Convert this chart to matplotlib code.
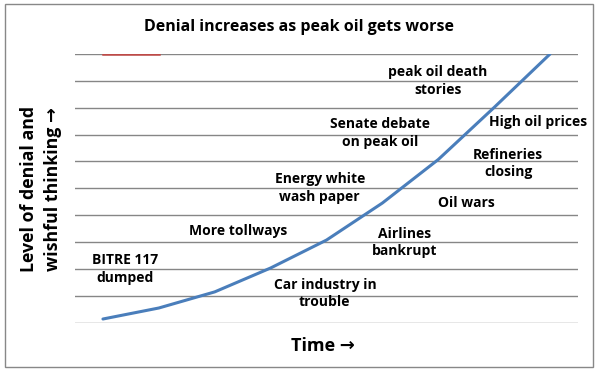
import matplotlib.pyplot as plt
from matplotlib.patches import Rectangle

plt.rcParams['font.family'] = ['Open Sans', 'DejaVu Sans']

# denial level over time (9 steps)
steps = list(range(9))
denial = [1.3, 5.4, 11.4, 20.3, 30.7, 44.5, 60.7, 80.1, 100]
# short red series at the top (first two steps)
red_steps = [0, 1]
red_vals = [100, 100]

events = ["peak oil death\nstories", "Senate debate\non peak oil", "High oil prices",
          "Refineries\nclosing", "Energy white\nwash paper", "Oil wars",
          "More tollways", "Airlines\nbankrupt", "BITRE 117\ndumped",
          "Car industry in\ntrouble"]
event_x = [5.99, 4.96, 7.78, 7.25, 3.88, 6.51, 2.42, 5.40, 0.39, 3.97]
event_y = [89.9, 70.6, 74.6, 59.2, 50.1, 44.5, 34.1, 29.8, 19.9, 10.8]

fig = plt.figure(figsize=(5.98, 3.73), dpi=100)
ax = fig.add_axes([75/598, 50.5/373, 503/598, 268.5/373])

ax.plot(steps, denial, color='#4A7EBB', lw=2.2, solid_capstyle='round', zorder=3)
ax.plot(red_steps, red_vals, color='#BE4B48', lw=1.8, zorder=3)

for txt, x, y in zip(events, event_x, event_y):
    ax.text(x, y, txt, ha='center', va='center', fontsize=10, fontweight='bold',
            linespacing=1.3, zorder=4)

ax.set_xlim(-0.5, 8.5)
ax.set_ylim(0, 100)
ax.set_yticks(range(0, 101, 10))
ax.set_xticks([])
ax.tick_params(left=False, labelleft=False)
ax.grid(axis='y', color='#868686', lw=1)
ax.set_axisbelow(True)
for s in ax.spines.values():
    s.set_visible(False)

fig.text(0.5, 1 - 27/373, "Denial increases as peak oil gets worse", ha='center', va='center',
         fontsize=11.5, fontweight='bold')
fig.text(323/598, 1 - 346/373, "Time \u2192", ha='center', va='center',
         fontsize=13, fontweight='bold')
fig.text(41/598, 1 - 189/373, "Level of denial and\nwishful thinking \u2192", ha='center', va='center',
         rotation=90, fontsize=12.8, fontweight='bold', linespacing=1.4)

fig.patches.append(Rectangle((5/598, 1 - 367/373), 588/598, 363/373, transform=fig.transFigure,
                             fill=False, edgecolor='#888888', lw=1))

plt.savefig("out.png", dpi=100)
